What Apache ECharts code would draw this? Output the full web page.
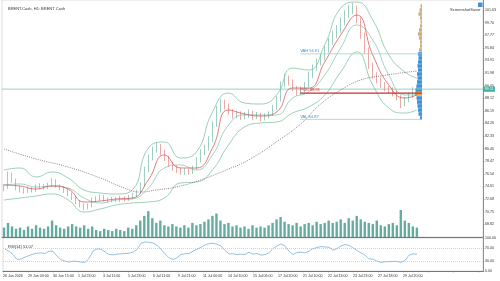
<!DOCTYPE html>
<html>
<head>
<meta charset="utf-8">
<script src="https://cdn.jsdelivr.net/npm/echarts@6/dist/echarts.min.js"></script>
<style>
html,body{margin:0;padding:0;background:#fff}
#main{width:500px;height:281px}
</style>
</head>
<body>
<div id="main"></div>
<script>
var priceTicks = [68.82, 70.75, 72.68, 74.61, 76.54, 78.47, 80.40, 82.33, 84.26, 86.19, 88.12, 90.05, 91.98, 93.91, 95.84, 97.77, 99.70, 101.63];
var rsiTicks = [0, 30, 70, 100];
var xLabels = ['26 Jun 2026', '29 Jun 03:00', '30 Jun 15:00', '1 Jul 23:00', '3 Jul 11:00', '5 Jul 23:00', '6 Jul 11:00', '9 Jul 21:00', '11 Jul 00:00',
    '14 Jul 10:00', '15 Jul 06:00', '17 Jul 20:00', '21 Jul 10:00', '22 Jul 13:00', '23 Jul 23:00', '27 Jul 18:00', '29 Jul 20:00'];

// H1 candles (sampled)
var opens = [74.60,74.36,76.36,75.59,74.36,74.06,73.90,74.21,74.06,74.52,
    74.67,74.52,74.82,75.44,74.67,74.36,74.06,73.45,72.83,72.22,
    71.76,71.45,71.61,72.53,72.68,72.99,72.68,72.53,72.68,72.53,
    72.83,72.68,72.99,73.29,73.75,74.82,77.12,78.96,80.19,80.80,
    79.88,78.96,78.04,77.43,77.12,76.81,76.97,76.81,77.43,78.65,
    79.88,80.49,81.72,84.01,86.31,87.38,86.92,86.01,85.54,85.70,
    85.24,85.54,85.85,85.24,85.54,85.09,85.39,85.70,86.62,87.84,
    90.14,91.21,90.60,89.68,89.07,89.37,90.14,91.67,92.74,93.66,
    94.28,95.50,96.73,97.80,98.56,99.79,100.86,101.63,101.93,100.10,
    97.80,95.50,93.20,91.67,90.91,90.14,89.68,89.37,88.92,88.30,
    87.23,87.84,88.61,89.37];
var closes = [74.36,76.36,75.59,74.36,74.06,73.90,74.21,74.06,74.52,74.67,
    74.52,74.82,75.44,74.67,74.36,74.06,73.45,72.83,72.22,71.76,
    71.45,71.61,72.53,72.68,72.99,72.68,72.53,72.68,72.53,72.83,
    72.68,72.99,73.29,73.75,74.82,77.12,78.96,80.19,80.80,79.88,
    78.96,78.04,77.43,77.12,76.81,76.97,76.81,77.43,78.65,79.88,
    80.49,81.72,84.01,86.31,87.38,86.92,86.01,85.54,85.70,85.24,
    85.54,85.85,85.24,85.54,85.09,85.39,85.70,86.62,87.84,90.14,
    91.21,90.60,89.68,89.07,89.37,90.14,91.67,92.74,93.66,94.28,
    95.50,96.73,97.80,98.56,99.79,100.86,101.63,101.93,100.10,97.80,
    95.50,93.20,91.67,90.91,90.14,89.68,89.37,88.92,88.30,87.23,
    87.84,88.61,89.37,89.53];
var lows = [73.9,74.2,75.2,74.0,73.7,73.5,73.6,73.7,73.8,74.2,
    74.1,74.2,74.6,74.4,74.0,73.6,73.1,72.5,71.9,71.4,
    71.0,71.1,71.4,72.2,72.4,72.3,72.1,72.2,72.2,72.2,
    72.3,72.4,72.7,73.0,73.5,74.6,76.8,78.6,79.8,79.4,
    78.5,77.6,77.0,76.7,76.4,76.4,76.4,76.5,77.2,78.3,
    79.4,80.1,81.4,83.7,85.9,86.4,85.6,85.0,85.1,84.8,
    84.9,85.1,84.8,84.9,84.6,84.7,85.0,85.4,86.3,87.6,
    89.8,90.1,89.2,88.5,88.6,89.0,89.8,91.2,92.3,93.1,
    93.9,95.1,96.3,97.3,98.1,99.3,100.4,101.0,99.6,97.2,
    94.9,92.6,91.1,90.4,89.7,89.2,88.9,88.4,87.8,86.6,
    86.9,87.5,88.2,89.0];
var highs = [75.0,76.9,76.7,75.8,74.7,74.4,74.6,74.5,74.9,75.1,
    75.0,75.2,75.9,75.7,74.9,74.6,74.3,73.7,73.1,72.5,
    72.0,72.0,72.9,73.1,73.4,73.3,72.9,73.0,73.0,73.2,
    73.1,73.3,73.6,74.1,75.2,77.6,79.5,80.7,81.4,81.1,
    80.2,79.3,78.4,77.8,77.5,77.4,77.3,77.8,79.1,80.3,
    81.0,82.3,84.6,86.9,88.0,87.9,87.3,86.4,86.2,86.1,
    86.0,86.4,86.2,86.0,85.9,85.8,86.1,87.1,88.4,90.7,
    91.9,91.6,91.0,90.0,89.9,90.6,92.2,93.3,94.2,94.9,
    96.1,97.3,98.5,99.3,100.5,101.6,102.4,102.7,102.3,100.5,
    98.2,95.9,93.6,92.1,91.3,90.6,90.0,89.8,89.3,88.6,
    88.3,89.0,89.8,89.9];
var volumes = [8,12,9,7,8,6,9,7,10, 8,7,9,14,10,8,7,9, 11,9,8,10,7,9,6,5,7, 6,5,7,6,5,8,7,10,
    14,18,22,16,12,14,10,9,11, 9,8,10,8,12,10,11,13, 15,18,20,14,11,12,9,10, 8,9,7,10,8,9,8,10,
    12,15,17,13,11,10,12,9,11, 12,10,13,11,12,14,12,13,15,12, 16,14,18,15,13,12,11,14,10,9,
    11,12,10,24,14,12,9,8];
var rsi = [66,60,50,35,36,42,47,51,54,55, 53,60,60,45,34,30,27,30,29,27,
    26,38,60,67,66,58,50,49,51,52, 53,54,57,65,84,88,87,85,78,66,
    52,40,35,40,50,52,53,60,66,72, 79,83,84,81,76,62,52,52,50,51,
    50,57,51,53,48,50,55,68,76,82, 76,60,50,56,57,55,60,68,71,74,
    73,72,63,68,76,80,78,70,62,55, 48,37,36,30,26,28,28,29,29,26,
    32,48,52,51];

// indicator lines read at every 4th candle
var bandIdx = [0,4,8,12,16,20,24,28,32,36,40,44,48,52,56,60,64,68,72,76,80,84,88,92,96,100,103];
var bandUpper = [77.12,77.43,76.05,76.81,75.90,74.06,73.60,73.45,74.06,80.49,81.41,78.96,79.88,86.00,88.92,87.38,87.23,88.61,92.74,92.44,96.27,101.93,102.85,100.10,94.74,92.13,91.21];
var bandLower = [72.53,72.83,73.14,73.45,72.53,70.69,71.15,71.76,72.07,72.22,72.83,75.13,75.28,77.12,80.95,83.71,84.32,84.47,85.85,86.77,88.61,92.13,95.20,90.14,86.62,85.85,86.31];
var bandMid = [74.82,74.98,74.52,74.67,74.36,72.83,72.07,72.53,72.68,74.36,77.43,77.89,77.12,79.42,84.01,85.55,85.55,85.55,88.15,89.07,91.67,95.81,99.33,97.03,91.67,88.61,88.61];
var fastMa = [74.82,74.67,74.21,74.67,74.21,72.22,72.37,72.68,72.83,75.59,79.42,77.43,77.43,80.49,86.31,85.70,85.39,86.00,89.68,89.68,93.66,97.80,100.86,94.74,90.14,88.15,88.61];
var slowMa = [[0,80.34],[8,78.81],[16,77.58],[24,75.90],[30,74.36],[34,73.75],[38,74.06],[43,74.52],[49,75.59],
    [56,77.27],[61,78.65],[69,81.87],[74,84.17],[79,87.23],[84,89.37],[89,90.91],[94,91.52],[99,91.98],[103,92.29]];

// volume profile of the last session
var profileLevels = [102.24,101.63,101.02,100.40,99.79,99.18,98.56,97.95,97.34,96.73,96.11,95.50,94.89,
    94.28,93.66,93.05,92.44,91.83,91.21,90.60,89.99,89.37,88.76,88.15,87.53,86.92,86.31,85.70,85.09];
var profileVol = [1.5,2.5,3.5,2,1.5,2,3,4,3,2,2,3,4, 3.5,4,4.5,4,5,4.5,5,5.5,6.5,7,5.5,5,4.5,4,3.5,2];
var profileStart = 74.4, profileEnd = 104.8;
var lastPrice = 89.51, vah = 94.91, val = 84.87, poc = 88.91, rsiLast = 51.07;

var nCats = 120;
var cats = [];
for (var i = 0; i < nCats; i++) cats.push(String(i));

var candles = [];
for (var i = 0; i < closes.length; i++) candles.push([opens[i], closes[i], lows[i], highs[i]]);

function pts(vals) {
    var out = [];
    for (var k = 0; k < vals.length; k++) out.push([bandIdx[k] + 0.5, vals[k]]);
    return out;
}
var slowPts = slowMa.map(function (p) { return [p[0] + 0.5, p[1]]; });
var rsiPts = rsi.map(function (v, i) { return [i + 0.5, v]; });

var profileData = profileVol.map(function (v, k) {
    var p = profileLevels[k];
    var c = '#3f8fdc';
    if (p > vah) c = '#cdae82';
    if (Math.abs(p - poc) < 0.35) c = '#f0a032';
    return { value: v, itemStyle: { color: c } };
});

var fnt = 'Liberation Sans';
var small = { fontSize: 3.6, color: '#333', fontFamily: fnt };

// horizontal level segment over the profile session
function levelSeries(v, txt, col, w, tcol) {
    return {
        type: 'line', xAxisIndex: 1, yAxisIndex: 0, silent: true, showSymbol: false,
        data: [[profileStart, v], [profileEnd, v]],
        lineStyle: { color: col, width: w },
        markPoint: {
            symbol: 'rect', symbolSize: 0.01, silent: true,
            label: { show: true, position: 'right', distance: 0, formatter: txt + ' ' + v.toFixed(2), color: tcol,
                fontSize: 4, fontFamily: fnt, offset: [0, -2.8] },
            data: [{ coord: [profileStart, v] }]
        }
    };
}

function line(data, col, w, dashed) {
    return {
        type: 'line', xAxisIndex: 1, yAxisIndex: 0, data: data, showSymbol: false, smooth: true, silent: true,
        lineStyle: { color: col, width: w, type: dashed ? [1, 1.2] : 'solid' }
    };
}

var myChart = echarts.init(document.getElementById('main'), null, { renderer: 'canvas' });

var option = {
    animation: false,
    backgroundColor: '#fff',
    title: [
        { text: 'BRENT.Cash, H1: BRENT Cash', left: 3, top: 2, textStyle: { fontSize: 4, fontWeight: 'normal', color: '#333', fontFamily: fnt } },
        { text: 'RSI(14) ' + rsiLast.toFixed(2), left: 3, top: 240, textStyle: { fontSize: 4, fontWeight: 'normal', color: '#333', fontFamily: fnt } },
        { text: 'ScreenshotSaver', left: 445, top: 3, textStyle: { fontSize: 4, fontWeight: 'normal', color: '#333', fontFamily: fnt } }
    ],
    graphic: [
        { type: 'rect', shape: { x: 478, y: 2.5, width: 4.5, height: 4.5 }, style: { fill: '#4a90d9' } }
    ],
    grid: [
        { left: 2, top: 0, width: 481, height: 237, show: true, borderColor: '#c8c8c8', borderWidth: 0.6 },
        { left: 2, top: 210, width: 481, height: 27 },
        { left: 2, top: 238, width: 481, height: 33, show: true, borderColor: '#c8c8c8', borderWidth: 0.6 },
        { left: 412, top: 4, width: 10, height: 116 }
    ],
    xAxis: [
        { type: 'category', gridIndex: 0, data: cats, boundaryGap: true,
          axisLine: { show: true, onZero: false, lineStyle: { color: '#777', width: 1 } }, axisTick: { show: false }, axisLabel: { show: false } },
        { type: 'value', gridIndex: 0, min: 0, max: nCats, show: false },
        { type: 'category', gridIndex: 1, data: cats, boundaryGap: true, show: false },
        { type: 'value', gridIndex: 2, min: 0, max: nCats, interval: 6.25, splitLine: { show: false },
          axisLine: { show: true, onZero: false, lineStyle: { color: '#777', width: 1 } },
          axisTick: { show: true, length: 1.5, lineStyle: { color: '#777', width: 0.5 } },
          axisLabel: { align: 'left', margin: 2.5, fontSize: 3.6, color: '#333', fontFamily: fnt, showMaxLabel: false,
              formatter: function (v) {
                  var k = Math.round(v / 6.25);
                  if (Math.abs(v - k * 6.25) > 0.01) return '';
                  return xLabels[k] || '';
              } } },
        { type: 'value', gridIndex: 3, min: 0, max: 10, inverse: true, show: false }
    ],
    yAxis: [
        { type: 'value', gridIndex: 0, position: 'right', min: 66.86, max: 103.16, splitLine: { show: false },
          axisLine: { show: true, onZero: false, lineStyle: { color: '#777', width: 0.8 } },
          axisTick: { show: true, length: 1.5, customValues: priceTicks, lineStyle: { color: '#777', width: 0.5 } },
          axisLabel: Object.assign({ margin: 2, customValues: priceTicks, formatter: function (v) { return v.toFixed(2); } }, small) },
        { type: 'value', gridIndex: 1, min: 0, max: 23, show: false },
        { type: 'value', gridIndex: 2, position: 'right', min: 0, max: 100, splitLine: { show: false },
          axisLine: { show: true, onZero: false, lineStyle: { color: '#777', width: 0.8 } },
          axisTick: { show: true, length: 1.5, customValues: rsiTicks, lineStyle: { color: '#777', width: 0.5 } },
          axisLabel: Object.assign({ margin: 2, customValues: rsiTicks, formatter: function (v) { return v.toFixed(2); } }, small) },
        { type: 'category', gridIndex: 3, data: profileLevels, inverse: true, show: false }
    ],
    series: [
        { type: 'bar', xAxisIndex: 2, yAxisIndex: 1, data: volumes, barWidth: 2.4, silent: true,
          itemStyle: { color: '#63ada0' } },
        // current price line
        {
            type: 'line', xAxisIndex: 1, yAxisIndex: 0, silent: true, showSymbol: false,
            data: [[0, lastPrice], [nCats, lastPrice]],
            lineStyle: { color: '#7cc6bb', width: 0.8 },
            endLabel: { show: true, distance: 0.5, formatter: lastPrice.toFixed(2), backgroundColor: '#3fa99b', color: '#fff',
                fontSize: 3.6, fontFamily: fnt, padding: [0.6, 1.2] }
        },
        {
            type: 'candlestick', xAxisIndex: 0, yAxisIndex: 0, data: candles, barWidth: 1.3, silent: true,
            itemStyle: { color: '#3a9f84', color0: '#d9534f', borderColor: '#3a9f84', borderColor0: '#d9534f', borderWidth: 0.5 }
        },
        line(pts(bandUpper), '#72bb95', 0.7),
        line(pts(bandLower), '#72bb95', 0.7),
        line(pts(bandMid), '#6ab3a0', 0.6),
        line(pts(fastMa), '#d64545', 0.7),
        line(slowPts, '#555', 0.7, true),
        levelSeries(vah, 'VAH', '#9fd6cd', 0.8, '#3f8fdc'),
        levelSeries(val, 'VAL', '#9fd6cd', 0.8, '#3f8fdc'),
        levelSeries(poc, 'POC', '#d02a2a', 1.2, '#d02a2a'),
        {
            type: 'line', xAxisIndex: 3, yAxisIndex: 2, data: rsiPts, showSymbol: false, silent: true,
            lineStyle: { color: '#6aa6d6', width: 0.7 },
            markLine: {
                symbol: 'none', silent: true, label: { show: false },
                lineStyle: { color: '#aaa', width: 0.5, type: [1, 1] },
                data: [{ yAxis: 70 }, { yAxis: 30 }]
            }
        },
        { type: 'bar', xAxisIndex: 4, yAxisIndex: 3, data: profileData, barCategoryGap: '10%', silent: true }
    ]
};

myChart.setOption(option);
</script>
</body>
</html>
